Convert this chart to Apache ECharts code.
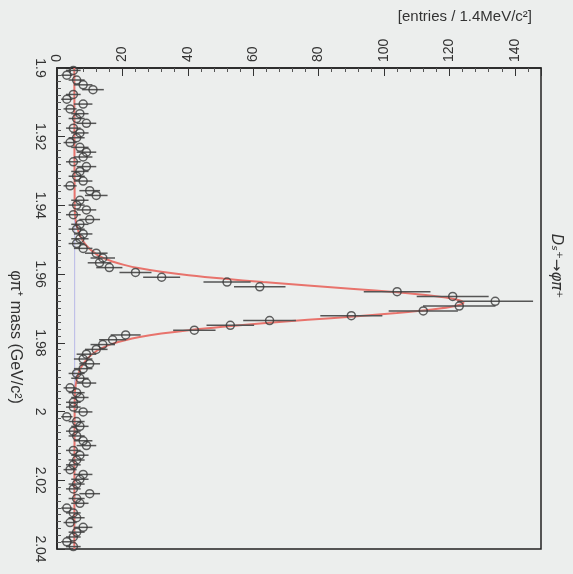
<!DOCTYPE html>
<html>
<head>
<meta charset="utf-8">
<script src="https://cdn.jsdelivr.net/npm/echarts@6/dist/echarts.min.js"></script>
<style>
  html, body { margin: 0; padding: 0; background: #eceeed; }
  #mass-fit { width: 573px; height: 574px; }
</style>
</head>
<body>
<div id="mass-fit"></div>
<script>
// histogram: 100 bins of 1.4 MeV from 1.9 GeV
var binLow = 1.9;
var binWidth = 0.0014;
var entries = [
  5, 3, 6, 8, 11, 5, 3, 8, 4, 7, 6, 9, 5, 7, 6, 4, 7, 9, 8, 5,
  9, 7, 6, 8, 4, 10, 12, 7, 6, 9, 5, 10, 7, 6, 8, 7,
  6, 8, 12, 14, 13, 16, 24, 32, 52, 62, 104, 121, 134, 123, 112, 90, 65, 53, 42, 21, 17, 14, 12, 9, 8,
  10, 8, 6, 7, 9, 4, 6, 7, 5, 5, 8, 3, 6, 7, 5, 6, 8, 9, 5, 7,
  6, 5, 4, 8, 7, 6, 5, 10, 6, 7, 3, 5, 6, 4, 8, 6, 5, 3, 5
];

// fit curve
var fitMass = [1.9000, 1.9403, 1.9443, 1.9483, 1.9503, 1.9523, 1.9543, 1.9553, 1.9563, 1.9573,
  1.9583, 1.9593, 1.9603, 1.9613, 1.9623, 1.9633, 1.9643, 1.9653, 1.9663, 1.9673,
  1.9683,
  1.9693, 1.9703, 1.9713, 1.9723, 1.9733, 1.9743, 1.9753, 1.9763, 1.9773, 1.9783,
  1.9793, 1.9803, 1.9813, 1.9823, 1.9843, 1.9863, 1.9883, 1.9923, 1.9963, 2.0400];
var fitVal = [5.3, 5.4, 5.7, 6.8, 7.9, 9.6, 12.2, 14.2, 16.9, 20.5,
  25.3, 31.9, 40.3, 50.7, 63.0, 76.7, 90.8, 103.9, 114.7, 121.8,
  124.3,
  121.8, 114.7, 103.9, 90.8, 76.7, 63.0, 50.7, 40.3, 31.9, 25.3,
  20.5, 16.9, 14.2, 12.2, 9.6, 7.9, 6.8, 5.7, 5.4, 5.3];
// background component
var bgMass = [1.9, 2.04];
var bgVal = [5.4, 5.4];

var entryTicks = [0, 20, 40, 60, 80, 100, 120, 140];

var points = [];
var bars = [];
for (var i = 0; i < entries.length; i++) {
  var m = binLow + binWidth * (i + 0.5);
  var n = entries[i];
  var e = Math.sqrt(n);
  points.push([n, m]);
  bars.push([n - e, n + e, m]);
}
var fitData = fitMass.map(function (m, k) { return [fitVal[k], m]; });
var bgData = bgMass.map(function (m, k) { return [bgVal[k], m]; });

var chart = echarts.init(document.getElementById('mass-fit'));
var font = '"Liberation Sans", Arial, sans-serif';

chart.setOption({
  animation: false,
  backgroundColor: '#eceeed',
  grid: {
    left: 57, top: 68, right: 32, bottom: 25,
    show: true, borderColor: '#222', borderWidth: 1.5,
    backgroundColor: 'transparent'
  },
  xAxis: {
    type: 'value',
    position: 'top',
    min: 0,
    max: 148,
    interval: 20,
    axisLine: { show: true, lineStyle: { color: '#222', width: 1.5 } },
    axisTick: { inside: true, length: 8, lineStyle: { color: '#333' } },
    minorTick: { show: true, splitNumber: 5, length: 4, lineStyle: { color: '#555' } },
    splitLine: { show: false },
    axisLabel: {
      rotate: -90, margin: 6, color: '#333', fontSize: 14, fontFamily: font,
      customValues: entryTicks
    }
  },
  yAxis: {
    type: 'value',
    inverse: true,
    min: 1.9,
    max: 2.04,
    interval: 0.02,
    axisLine: { show: true, lineStyle: { color: '#222', width: 1.5 } },
    axisTick: { inside: true, length: 8, lineStyle: { color: '#333' } },
    minorTick: { show: true, splitNumber: 10, length: 4, lineStyle: { color: '#555' } },
    splitLine: { show: false },
    axisLabel: {
      rotate: -90, margin: 10, color: '#333', fontSize: 14, fontFamily: font,
      formatter: function (v) { return String(Number(v.toFixed(2))); }
    }
  },
  graphic: [
    {
      type: 'text', x: 532, y: 17,
      style: {
        text: '[entries / 1.4MeV/c²]', align: 'right', verticalAlign: 'middle',
        fill: '#333', font: '15px ' + font
      }
    },
    {
      type: 'text', x: 15, y: 337, rotation: -Math.PI / 2,
      style: {
        text: 'φπ⁺ mass (GeV/c²)', align: 'center', verticalAlign: 'middle',
        fill: '#333', font: '16px ' + font
      }
    },
    {
      type: 'text', x: 556, y: 266, rotation: -Math.PI / 2,
      style: {
        text: 'Dₛ⁺→φπ⁺', align: 'center', verticalAlign: 'middle',
        fill: '#333', font: 'italic 15px "DejaVu Sans", ' + font
      }
    }
  ],
  series: [
    {
      // background
      type: 'line',
      data: bgData,
      symbol: 'none',
      lineStyle: { color: '#b8b8e8', width: 1 },
      z: 1
    },
    {
      // fit
      type: 'line',
      data: fitData,
      symbol: 'none',
      smooth: 0.3,
      lineStyle: { color: '#e8736c', width: 2 },
      z: 2
    },
    {
      // error bars sqrt(N)
      type: 'custom',
      data: bars,
      renderItem: function (params, api) {
        var a = api.coord([api.value(0), api.value(2)]);
        var b = api.coord([api.value(1), api.value(2)]);
        return {
          type: 'line',
          shape: { x1: a[0], y1: a[1], x2: b[0], y2: b[1] },
          style: { stroke: '#555', lineWidth: 1.5 }
        };
      },
      encode: { x: [0, 1], y: 2 },
      z: 3
    },
    {
      type: 'scatter',
      data: points,
      symbol: 'circle',
      symbolSize: 8,
      itemStyle: { color: 'rgba(0,0,0,0)', borderColor: '#3a3a3a', borderWidth: 1.5 },
      z: 4
    }
  ]
});
</script>
</body>
</html>
